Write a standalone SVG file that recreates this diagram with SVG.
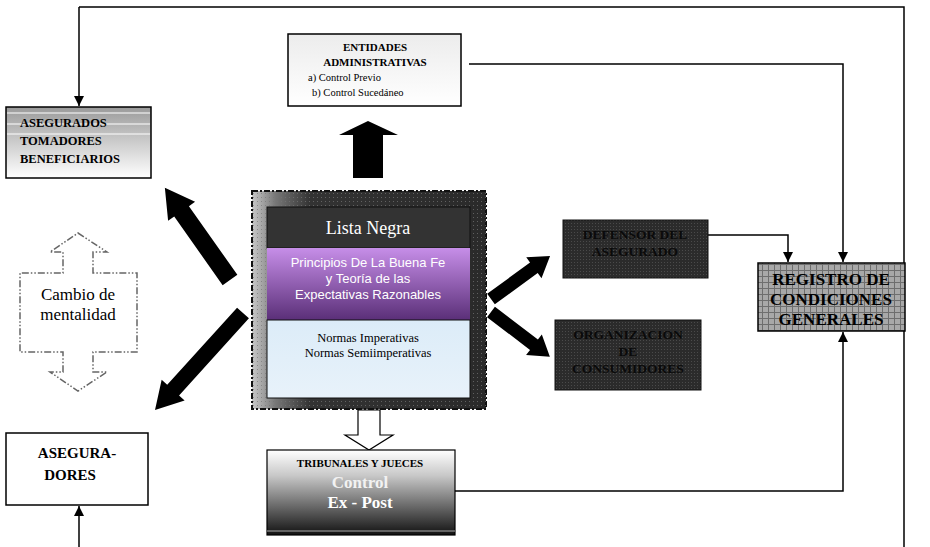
<svg xmlns="http://www.w3.org/2000/svg" width="930" height="547" viewBox="0 0 930 547">
<defs>
  <marker id="ah" viewBox="0 0 10 10" refX="10" refY="5" markerWidth="10" markerHeight="11" markerUnits="userSpaceOnUse" orient="auto">
    <path d="M0,0 L10,5 L0,10 z" fill="#000"/>
  </marker>
  <linearGradient id="gAseg" x1="0" y1="0" x2="0" y2="1">
    <stop offset="0" stop-color="#9a9a9a"/>
    <stop offset="1" stop-color="#ffffff"/>
  </linearGradient>
  <linearGradient id="gEnt" x1="0" y1="0" x2="0" y2="1">
    <stop offset="0" stop-color="#ececec"/>
    <stop offset="1" stop-color="#ffffff"/>
  </linearGradient>
  <linearGradient id="gTrib" x1="0" y1="0" x2="0" y2="1">
    <stop offset="0" stop-color="#ffffff"/>
    <stop offset="0.3" stop-color="#c8c8c8"/>
    <stop offset="1" stop-color="#111111"/>
  </linearGradient>
  <linearGradient id="gFrame" x1="0" y1="0" x2="1" y2="0">
    <stop offset="0" stop-color="#c8c8c8"/>
    <stop offset="0.1" stop-color="#777"/>
    <stop offset="0.25" stop-color="#333"/>
    <stop offset="1" stop-color="#2a2a2a"/>
  </linearGradient>
  <linearGradient id="gPurple" x1="0" y1="0" x2="0" y2="1">
    <stop offset="0" stop-color="#c68ee8"/>
    <stop offset="1" stop-color="#5a2f78"/>
  </linearGradient>
  <linearGradient id="gBlue" x1="0" y1="0" x2="0" y2="1">
    <stop offset="0" stop-color="#dcecf8"/>
    <stop offset="1" stop-color="#e8f2fa"/>
  </linearGradient>
  <pattern id="pDots" width="4" height="4" patternUnits="userSpaceOnUse">
    <rect width="4" height="4" fill="none"/>
    <rect x="1" y="1" width="1" height="1" fill="#777" opacity="0.7"/>
  </pattern>
  <pattern id="pDark" width="3" height="3" patternUnits="userSpaceOnUse">
    <rect width="3" height="3" fill="#2b2b2b"/>
    <rect x="1" y="1" width="1" height="1" fill="#4a4a4a"/>
  </pattern>
  <pattern id="pGrid" width="6" height="6" patternUnits="userSpaceOnUse">
    <rect width="6" height="6" fill="#a8a8a8"/>
    <path d="M0,0.5 H6 M0.5,0 V6" stroke="#6e6e6e" stroke-width="1"/>
  </pattern>
  <style>
    .box { stroke:#000; stroke-width:1.5; }
    .conn { fill:none; stroke:#000; stroke-width:1.5; }
    .bold { font-family:"Liberation Serif","Times New Roman",serif; font-weight:bold; }
    .ser { font-family:"Liberation Serif","Times New Roman",serif; }
    .sans { font-family:"Liberation Sans",Arial,sans-serif; }
    .big { fill:#000; }
  </style>
</defs>

<g id="connectors">
  <path class="conn" d="M79,7 H904 V547"/>
  <path class="conn" d="M79,7 V106" marker-end="url(#ah)"/>
  <path class="conn" d="M79,547 V506" marker-end="url(#ah)"/>
  <path class="conn" d="M469,64 H843 V262" marker-end="url(#ah)"/>
  <path class="conn" d="M708,235 H788 V262" marker-end="url(#ah)"/>
  <path class="conn" d="M455,491 H843 V332" marker-end="url(#ah)"/>
  <!-- big black arrows -->
  <polygon class="big" points="353,178 383,178 383,135 398,135 368,121 339,135 353,135"/>
  <polygon class="big" transform="translate(230,280) rotate(-125.2)" points="0,-9 84,-9 84,-16.5 113,0 84,16.5 84,9 0,9"/>
  <polygon class="big" transform="translate(243,313) rotate(132.2)" points="0,-8 104,-8 104,-15.5 131,0 104,15.5 104,8 0,8"/>
  <polygon class="big" transform="translate(491,299) rotate(-36)" points="0,-6.5 53,-6.5 53,-13 73,0 53,13 53,6.5 0,6.5"/>
  <polygon class="big" transform="translate(491,312) rotate(37.3)" points="0,-6.5 54,-6.5 54,-13 74,0 54,13 54,6.5 0,6.5"/>
  <!-- open arrow down -->
  <polygon points="358,410 380,410 380,435 393,435 369,450 345,435 358,435" fill="#fff" stroke="#000" stroke-width="1.2"/>
</g>

<g id="asegurados">
  <rect class="box" x="6" y="107" width="145" height="71" fill="url(#gAseg)"/>
  <line x1="7" y1="113" x2="150" y2="113" stroke="#fff" stroke-width="1"/>
  <line x1="7" y1="124" x2="150" y2="124" stroke="#fff" stroke-width="1"/>
  <line x1="7" y1="134" x2="150" y2="134" stroke="#fff" stroke-width="1"/>
  <text class="bold" font-size="12.5" x="20" y="127">ASEGURADOS</text>
  <text class="bold" font-size="12.5" x="20" y="145">TOMADORES</text>
  <text class="bold" font-size="12.5" x="20" y="163">BENEFICIARIOS</text>
</g>

<g id="entidades">
  <rect class="box" x="288" y="34" width="173" height="72" fill="url(#gEnt)"/>
  <text class="bold" font-size="11" x="375" y="51" text-anchor="middle">ENTIDADES</text>
  <text class="bold" font-size="11" x="375" y="66" text-anchor="middle">ADMINISTRATIVAS</text>
  <text class="ser" font-size="10.5" x="308" y="81">a) Control Previo</text>
  <text class="ser" font-size="10.5" x="312" y="96">b) Control Sucedáneo</text>
</g>

<g id="central">
  <rect x="252" y="191" width="234" height="218" fill="url(#gFrame)" stroke="#111" stroke-width="2" stroke-dasharray="6,2,2,2"/>
  <rect x="252" y="191" width="234" height="218" fill="url(#pDots)"/>
  <rect x="267" y="207" width="203" height="41" fill="#333" stroke="#111" stroke-width="1"/>
  <text class="ser" font-size="18" x="368" y="234" text-anchor="middle" fill="#fff">Lista Negra</text>
  <rect x="267" y="248" width="203" height="72" fill="url(#gPurple)"/>
  <text class="sans" font-size="13" x="368" y="267" text-anchor="middle" fill="#fff">Principios De La Buena Fe</text>
  <text class="sans" font-size="13" x="368" y="283" text-anchor="middle" fill="#fff">y Teoría de las</text>
  <text class="sans" font-size="13" x="368" y="299" text-anchor="middle" fill="#fff">Expectativas Razonables</text>
  <rect x="267" y="320" width="203" height="78" fill="url(#gBlue)" stroke="#111" stroke-width="1"/>
  <text class="ser" font-size="12.5" x="368" y="342" text-anchor="middle">Normas Imperativas</text>
  <text class="ser" font-size="12.5" x="368" y="357" text-anchor="middle">Normas Semiimperativas</text>
</g>

<g id="defensor">
  <rect x="563" y="220" width="145" height="58" fill="url(#pDark)" stroke="#111" stroke-width="1"/>
  <text class="bold" font-size="13.5" x="635" y="239" text-anchor="middle" fill="#0a0a0a">DEFENSOR DEL</text>
  <text class="bold" font-size="13.5" x="635" y="256" text-anchor="middle" fill="#0a0a0a">ASEGURADO</text>
</g>

<g id="organizacion">
  <rect x="555" y="320" width="146" height="70" fill="url(#pDark)" stroke="#111" stroke-width="1"/>
  <text class="bold" font-size="13.5" x="628" y="339" text-anchor="middle" fill="#0a0a0a">ORGANIZACION</text>
  <text class="bold" font-size="13.5" x="628" y="356" text-anchor="middle" fill="#0a0a0a">DE</text>
  <text class="bold" font-size="13.5" x="628" y="373" text-anchor="middle" fill="#0a0a0a">CONSUMIDORES</text>
</g>

<g id="registro">
  <rect x="758" y="263" width="147" height="68" fill="url(#pGrid)" stroke="#000" stroke-width="1.5"/>
  <text class="bold" font-size="17" x="831" y="285" text-anchor="middle">REGISTRO DE</text>
  <text class="bold" font-size="17" x="831" y="305" text-anchor="middle">CONDICIONES</text>
  <text class="bold" font-size="17" x="831" y="325" text-anchor="middle">GENERALES</text>
</g>

<g id="cambio">
  <path d="M78,233 L107,252 L93,252 L93,273 L137,273 L137,352 L93,352 L93,372 L107,372 L78,391 L50,372 L63,372 L63,352 L20,352 L20,273 L63,273 L63,252 L50,252 Z" fill="#fff" stroke="#666" stroke-width="1.5" stroke-dasharray="7,2,1.5,2,1.5,2"/>
  <text class="ser" font-size="17" x="78" y="300" text-anchor="middle">Cambio de</text>
  <text class="ser" font-size="17" x="78" y="320" text-anchor="middle">mentalidad</text>
</g>

<g id="aseguradores">
  <rect class="box" x="6" y="433" width="142" height="72" fill="#fff"/>
  <text class="bold" font-size="15" x="77" y="458" text-anchor="middle">ASEGURA-</text>
  <text class="bold" font-size="15" x="70" y="480" text-anchor="middle">DORES</text>
</g>

<g id="tribunales">
  <rect x="267" y="450" width="188" height="85" fill="url(#gTrib)" stroke="#000" stroke-width="1.2"/>
  <line x1="267" y1="531" x2="455" y2="531" stroke="#aaa" stroke-width="1"/>
  <text class="bold" font-size="11" x="360" y="467" text-anchor="middle">TRIBUNALES Y JUECES</text>
  <text class="bold" font-size="17" x="360" y="488" text-anchor="middle" fill="#f2f2f2">Control</text>
  <text class="bold" font-size="17" x="360" y="508" text-anchor="middle" fill="#fff">Ex - Post</text>
</g>
</svg>
